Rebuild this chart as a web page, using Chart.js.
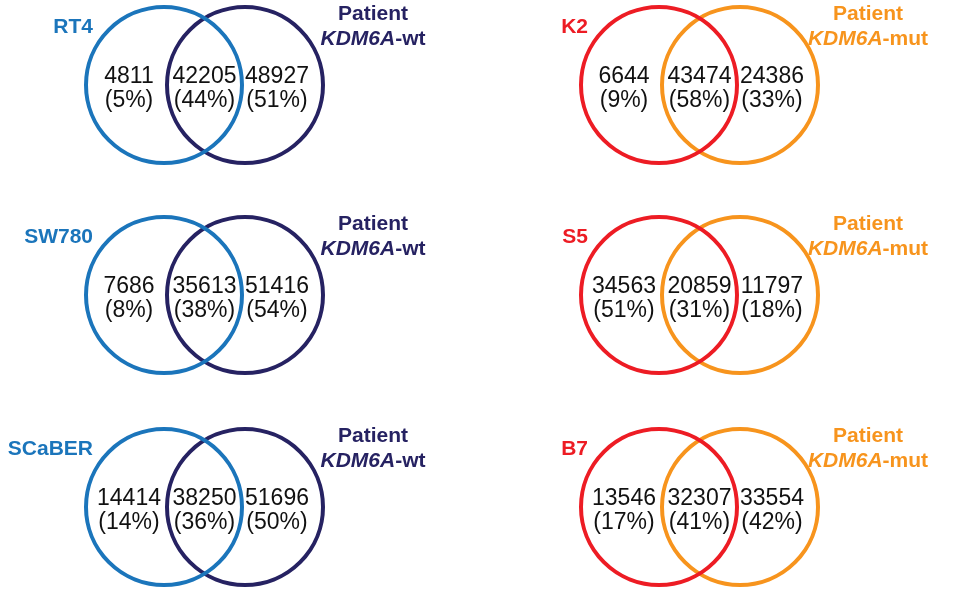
<!DOCTYPE html>
<html>
<head>
<meta charset="utf-8">
<style>
html,body{margin:0;padding:0;background:#ffffff;overflow:hidden}
#wrap{width:966px;height:596px;position:relative}
canvas{display:block}
</style>
<script src="https://cdn.jsdelivr.net/npm/chart.js@4.4.1/dist/chart.umd.min.js"></script>
</head>
<body>
<div id="wrap"><canvas id="c" width="966" height="596"></canvas></div>
<script>
// ---- data ----
const cellLines     = ['RT4', 'SW780', 'SCaBER', 'K2', 'S5', 'B7'];
const patientGroups = ['KDM6A-wt', 'KDM6A-wt', 'KDM6A-wt', 'KDM6A-mut', 'KDM6A-mut', 'KDM6A-mut'];
const cellOnly      = [4811, 7686, 14414, 6644, 34563, 13546];
const shared        = [42205, 35613, 38250, 43474, 20859, 32307];
const patientOnly   = [48927, 51416, 51696, 24386, 11797, 33554];
const cellOnlyPct   = [5, 8, 14, 9, 51, 17];
const sharedPct     = [44, 38, 36, 58, 31, 41];
const patientPct    = [51, 54, 50, 33, 18, 42];

// ---- layout / style ----
const colCellX    = [164, 659];   // axis units (== px)
const colPatientX = [245, 740];
const rowY        = [85, 295, 507];
const circleR     = 78;
const cellColors    = ['#1b75bb', '#ed1c24'];
const patientColors = ['#262262', '#f7941d'];
const FONT = '"Liberation Sans", Arial, Helvetica, sans-serif';

function panelPos(i) {
  const col = i < 3 ? 0 : 1;
  const row = i % 3;
  return { col, row, cx1: colCellX[col], cx2: colPatientX[col], cy: rowY[row] };
}

const cellCircles = cellLines.map((_, i) => {
  const p = panelPos(i);
  return { x: p.cx1, y: p.cy, r: circleR };
});
const patientCircles = cellLines.map((_, i) => {
  const p = panelPos(i);
  return { x: p.cx2, y: p.cy, r: circleR };
});

const textPlugin = {
  id: 'vennText',
  afterDatasetsDraw(chart) {
    const ctx = chart.ctx;
    const xs = chart.scales.x, ys = chart.scales.y;
    ctx.save();
    cellLines.forEach((name, i) => {
      const p = panelPos(i);
      const x1 = xs.getPixelForValue(p.cx1);
      const x2 = xs.getPixelForValue(p.cx2);
      const cy = ys.getPixelForValue(p.cy);
      // counts
      ctx.fillStyle = '#111111';
      ctx.textAlign = 'center';
      ctx.textBaseline = 'alphabetic';
      ctx.font = '23px ' + FONT;
      const xa = x1 - 35, xb = (x1 + x2) / 2, xc = x2 + 32;
      ctx.fillText(String(cellOnly[i]), xa, cy - 2);
      ctx.fillText(String(shared[i]), xb, cy - 2);
      ctx.fillText(String(patientOnly[i]), xc, cy - 2);
      ctx.fillText('(' + cellOnlyPct[i] + '%)', xa, cy + 21.5);
      ctx.fillText('(' + sharedPct[i] + '%)', xb, cy + 21.5);
      ctx.fillText('(' + patientPct[i] + '%)', xc, cy + 21.5);
      // cell line label
      ctx.font = 'bold 21px ' + FONT;
      ctx.fillStyle = cellColors[p.col];
      ctx.textAlign = 'right';
      ctx.fillText(name, x1 - 71, cy - 52);
      // patient label
      const lx = x2 + 128;
      ctx.fillStyle = patientColors[p.col];
      ctx.textAlign = 'center';
      ctx.fillText('Patient', lx, cy - 65.5);
      const parts = patientGroups[i].split('-');
      const italicPart = parts[0];
      const restPart = '-' + parts.slice(1).join('-');
      ctx.font = 'italic bold 21px ' + FONT;
      const w1 = ctx.measureText(italicPart).width;
      ctx.font = 'bold 21px ' + FONT;
      const w2 = ctx.measureText(restPart).width;
      const start = lx - (w1 + w2) / 2;
      ctx.textAlign = 'left';
      ctx.font = 'italic bold 21px ' + FONT;
      ctx.fillText(italicPart, start, cy - 40);
      ctx.font = 'bold 21px ' + FONT;
      ctx.fillText(restPart, start + w1, cy - 40);
    });
    ctx.restore();
  }
};

new Chart(document.getElementById('c'), {
  type: 'bubble',
  data: {
    datasets: [
      {
        label: 'Cell line',
        data: cellCircles,
        backgroundColor: 'rgba(0,0,0,0)',
        borderColor: cellLines.map((_, i) => cellColors[panelPos(i).col]),
        borderWidth: 4,
        hoverRadius: 0,
        hoverBorderWidth: 4,
        clip: false
      },
      {
        label: 'Patient',
        data: patientCircles,
        backgroundColor: 'rgba(0,0,0,0)',
        borderColor: cellLines.map((_, i) => patientColors[panelPos(i).col]),
        borderWidth: 4,
        hoverRadius: 0,
        hoverBorderWidth: 4,
        clip: false
      }
    ]
  },
  options: {
    responsive: false,
    animation: false,
    devicePixelRatio: 1,
    events: [],
    layout: { padding: 0, autoPadding: false },
    scales: {
      x: { type: 'linear', min: 0, max: 966, display: false },
      y: { type: 'linear', min: 0, max: 596, reverse: true, display: false }
    },
    plugins: { legend: { display: false }, tooltip: { enabled: false }, title: { display: false } }
  },
  plugins: [textPlugin]
});
</script>
</body>
</html>
